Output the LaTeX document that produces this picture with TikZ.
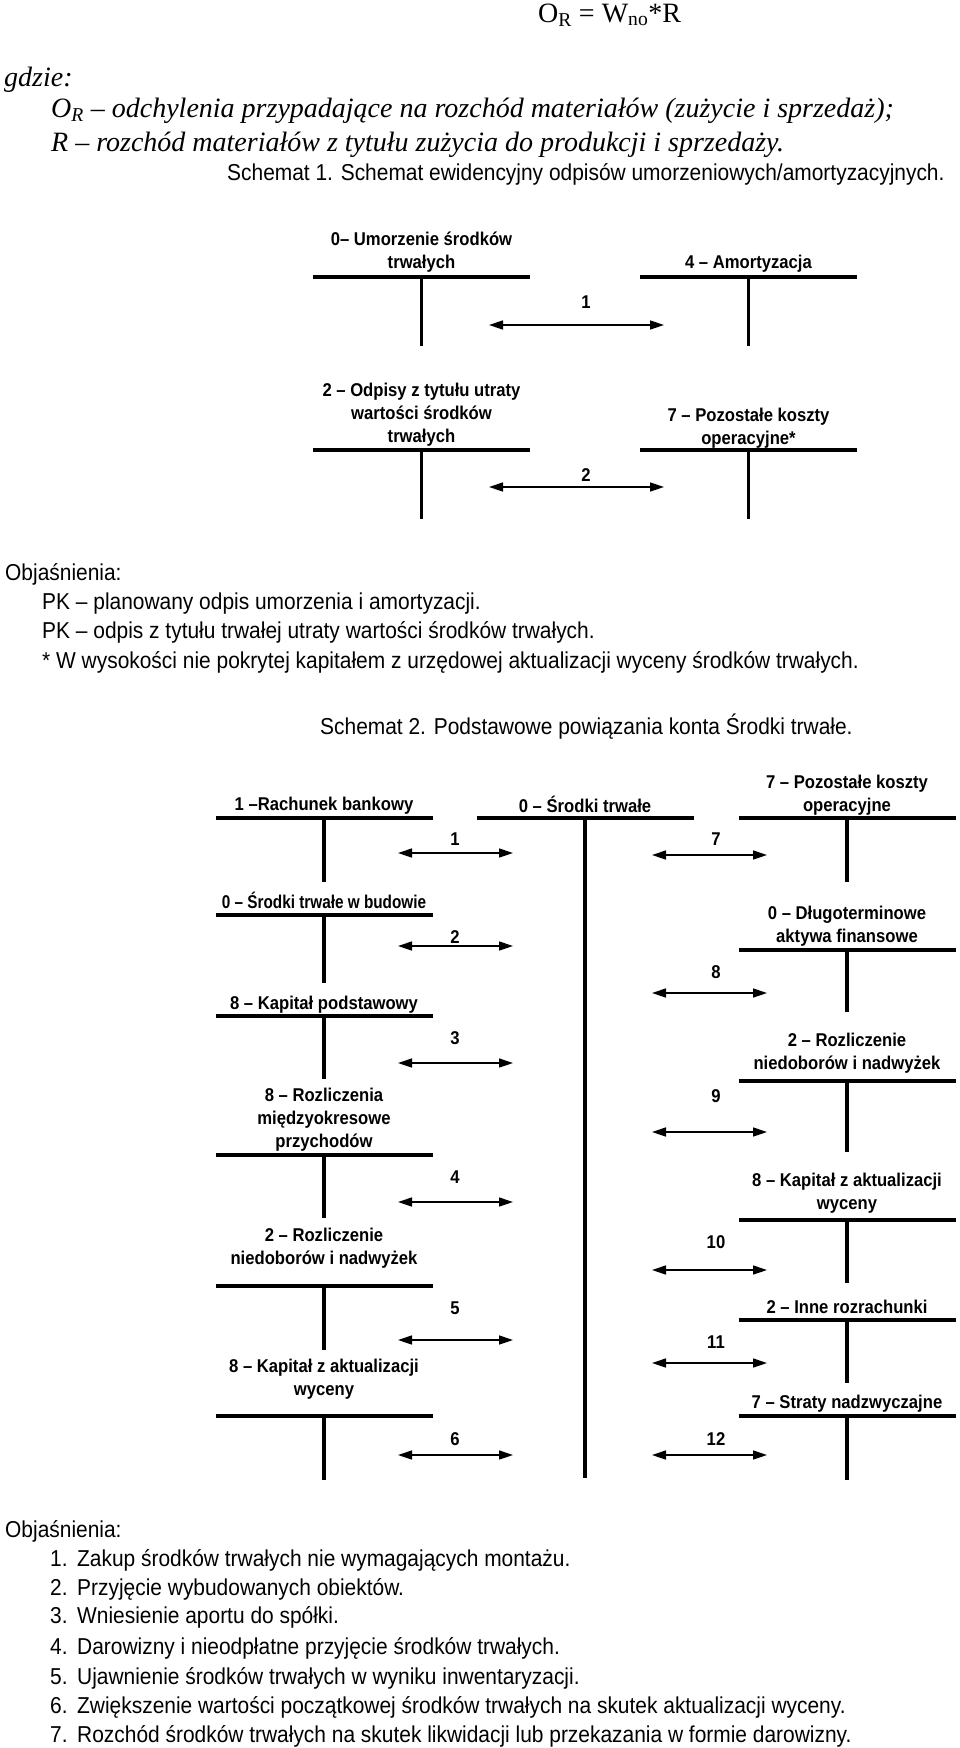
\documentclass[tikz,border=0pt]{standalone}
\usepackage{fontspec}
\usepackage{graphicx}
\setmainfont{Liberation Serif}
\newfontfamily\sansN[FakeStretch=0.9]{Liberation Sans}
\newfontfamily\sansR[FakeStretch=0.91]{Liberation Sans}
\usetikzlibrary{arrows.meta}

\newcommand{\tacct}[4]{% name, x centre, bar y, bottom y
  \coordinate (#1-l) at ({#2-108.5},#3);
  \coordinate (#1-r) at ({#2+108.5},#3);
  \coordinate (#1-t) at (#2,#3);
  \coordinate (#1-b) at (#2,#4);
  \draw[bar] (#1-l) -- (#1-r);
  \draw[bar] (#1-t) -- (#1-b);}
\newcommand{\flow}[7]{% name, x left, x right, y, label x, label base y, label
  \coordinate (#1-a) at (#2,#4);
  \coordinate (#1-b) at (#3,#4);
  \draw[flowline] (#1-a) -- (#1-b);
  \node[num] (#1-lab) at (#5,#6) {#7};}

\begin{document}
\begin{tikzpicture}[x=1pt,y=-1pt,
  bar/.style={line width=3.4pt},
  flowline/.style={line width=1.5pt,{Triangle[length=14pt,width=9pt]}-{Triangle[length=14pt,width=9pt]}},
  lbl/.style={font=\sansN\bfseries\fontsize{18.5}{23}\selectfont, align=center, inner sep=0pt, anchor=base},
  num/.style={font=\sansN\bfseries\fontsize{18.5}{23}\selectfont, inner sep=0pt, anchor=base},
  txt/.style={font=\sansR\fontsize{23}{28}\selectfont, inner sep=0pt, anchor=base west},
  ser/.style={font=\fontsize{28}{34}\selectfont\itshape, inner sep=0pt, anchor=base west},
  form/.style={font=\fontsize{28}{34}\selectfont, inner sep=0pt, anchor=base west},
]
\fill[white] (0,0) rectangle (960,1748);
\useasboundingbox (0,0) rectangle (960,1748);

% ---------- header text ----------
\node[form] (formula) at (538,22) {O\textsubscript{R} = W\textsubscript{no}*R};
\node[ser] (gdzie) at (4,86) {gdzie:};
\node[ser] (defOR) at (51,117) {O\textsubscript{R} – odchylenia przypadające na rozchód materiałów (zużycie i sprzedaż);};
\node[ser] (defR) at (51,151) {R – rozchód materiałów z tytułu zużycia do produkcji i sprzedaży.};
\node[txt] (cap1) at (227,180) {Schemat 1. Schemat ewidencyjny odpisów umorzeniowych/amortyzacyjnych.};

% ---------- Schemat 1 ----------
% (label y = baseline of the last line)
\tacct{s1a}{421.5}{277}{346}
\tacct{s1b}{748.5}{277}{346}
\tacct{s1c}{421.5}{450}{519}
\tacct{s1d}{748.5}{450}{519}
\node[lbl] (s1a-lab) at (421.5,268) {0– Umorzenie środków\\trwałych};
\node[lbl] (s1b-lab) at (748.5,268) {4 – Amortyzacja};
\node[lbl] (s1c-lab) at (421.5,442) {2 – Odpisy z tytułu utraty\\wartości środków\\trwałych};
\node[lbl] (s1d-lab) at (748.5,444) {7 – Pozostałe koszty\\operacyjne*};
\flow{f1a}{489}{664}{325}{586}{308}{1}
\flow{f1b}{489}{664}{487}{586}{481}{2}

% ---------- explanations 1 ----------
\node[txt] (obj1) at (5,580) {Objaśnienia:};
\node[txt] (pk1) at (42,609) {PK – planowany odpis umorzenia i amortyzacji.};
\node[txt] (pk2) at (42,638) {PK – odpis z tytułu trwałej utraty wartości środków trwałych.};
\node[txt] (star) at (42,668) {* W wysokości nie pokrytej kapitałem z urzędowej aktualizacji wyceny środków trwałych.};
\node[txt] (cap2) at (320,734) {Schemat 2. Podstawowe powiązania konta Środki trwałe.};

% ---------- Schemat 2 : centre ----------
\tacct{mid}{585}{818}{1478}
\node[lbl] (mid-lab) at (585,812) {0 – Środki trwałe};

% ---------- Schemat 2 : left accounts ----------
\tacct{L1}{324}{818}{882}
\tacct{L2}{324}{915}{983}
\tacct{L3}{324}{1016}{1079}
\tacct{L4}{324}{1155}{1218}
\tacct{L5}{324}{1286}{1350}
\tacct{L6}{324}{1416}{1480}
\node[lbl] (L1-lab) at (324,810) {1 –Rachunek bankowy};
\node[lbl] (L2-lab) at (324,908) {\scalebox{0.92}[1]{0 – Środki trwałe w budowie}};
\node[lbl] (L3-lab) at (324,1009) {8 – Kapitał podstawowy};
\node[lbl] (L4-lab) at (324,1147) {8 – Rozliczenia\\międzyokresowe\\przychodów};
\node[lbl] (L5-lab) at (324,1264) {2 – Rozliczenie\\niedoborów i nadwyżek};
\node[lbl] (L6-lab) at (324,1395) {8 – Kapitał z aktualizacji\\wyceny};

% ---------- Schemat 2 : right accounts ----------
\tacct{R1}{847}{818}{882}
\tacct{R2}{847}{950}{1012}
\tacct{R3}{847}{1081}{1152}
\tacct{R4}{847}{1220}{1283}
\tacct{R5}{847}{1320}{1383}
\tacct{R6}{847}{1416}{1480}
\node[lbl] (R1-lab) at (847,811) {7 – Pozostałe koszty\\operacyjne};
\node[lbl] (R2-lab) at (847,942) {0 – Długoterminowe\\aktywa finansowe};
\node[lbl] (R3-lab) at (847,1069) {2 – Rozliczenie\\niedoborów i nadwyżek};
\node[lbl] (R4-lab) at (847,1209) {8 – Kapitał z aktualizacji\\wyceny};
\node[lbl] (R5-lab) at (847,1313) {2 – Inne rozrachunki};
\node[lbl] (R6-lab) at (847,1408) {7 – Straty nadzwyczajne};

% ---------- Schemat 2 : flows ----------
\flow{f1}{398}{513}{853}{455}{845}{1}
\flow{f2}{398}{513}{946}{455}{943}{2}
\flow{f3}{398}{513}{1063}{455}{1044}{3}
\flow{f4}{398}{513}{1202}{455}{1183}{4}
\flow{f5}{398}{513}{1340}{455}{1314}{5}
\flow{f6}{398}{513}{1455}{455}{1445}{6}
\flow{f7}{652}{767}{855}{716}{845}{7}
\flow{f8}{652}{767}{993}{716}{978}{8}
\flow{f9}{652}{767}{1132}{716}{1102}{9}
\flow{f10}{652}{767}{1270}{716}{1248}{10}
\flow{f11}{652}{767}{1363}{716}{1348}{11}
\flow{f12}{652}{767}{1455}{716}{1445}{12}

% ---------- explanations 2 ----------
\node[txt] (obj2) at (5,1537) {Objaśnienia:};
\node[txt] (e1) at (50,1566) {\makebox[27pt][l]{1.}Zakup środków trwałych nie wymagających montażu.};
\node[txt] (e2) at (50,1595) {\makebox[27pt][l]{2.}Przyjęcie wybudowanych obiektów.};
\node[txt] (e3) at (50,1623) {\makebox[27pt][l]{3.}Wniesienie aportu do spółki.};
\node[txt] (e4) at (50,1654) {\makebox[27pt][l]{4.}Darowizny i nieodpłatne przyjęcie środków trwałych.};
\node[txt] (e5) at (50,1684) {\makebox[27pt][l]{5.}Ujawnienie środków trwałych w wyniku inwentaryzacji.};
\node[txt] (e6) at (50,1713) {\makebox[27pt][l]{6.}Zwiększenie wartości początkowej środków trwałych na skutek aktualizacji wyceny.};
\node[txt] (e7) at (50,1742) {\makebox[27pt][l]{7.}Rozchód środków trwałych na skutek likwidacji lub przekazania w formie darowizny.};
\end{tikzpicture}
\end{document}
